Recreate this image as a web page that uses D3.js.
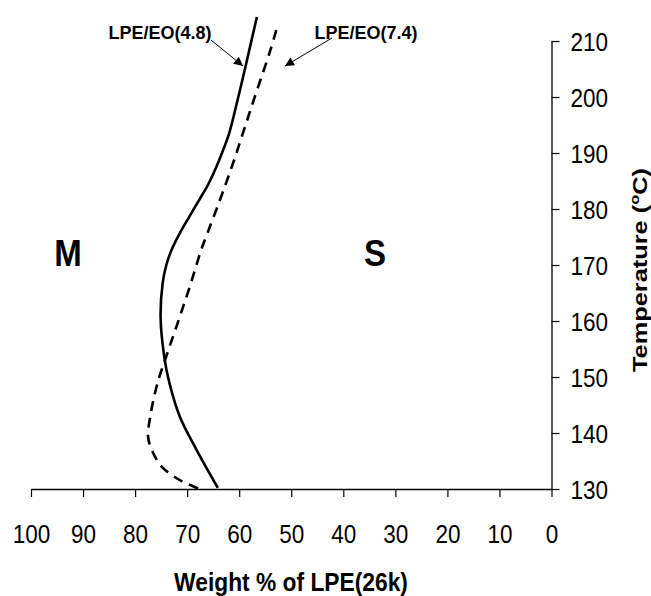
<!DOCTYPE html>
<meta charset="utf-8">
<head>
<script src="https://d3js.org/d3.v7.min.js"></script>
<style>
body { margin: 0; background: white; }
svg { display: block; font-family: "Liberation Sans", Arial, sans-serif; }
</style>
</head>
<body>
<div id="chart"></div>
<script>
// weight % of LPE(26k) vs temperature
var tempA   = [130.2, 137.0, 142.9, 148.9, 153.6, 160.7, 166.8, 170.0, 172.7, 175.7, 178.6, 181.6, 184.5, 187.5, 190.5, 193.6, 199.5, 205.4, 214.3];
var weightA = [64.1, 68.2, 71.4, 73.4, 74.4, 75.1, 74.7, 74.0, 73.0, 71.4, 69.6, 67.7, 65.9, 64.4, 63.1, 61.9, 60.3, 58.8, 56.6];

var tempB   = [130.1, 131.6, 134.0, 137.0, 139.3, 142.9, 148.9, 154.8, 160.8, 166.7, 172.7, 175.7, 181.6, 187.6, 193.5, 199.5, 208.4, 213.2];
var weightB = [67.9, 71.4, 74.9, 76.8, 77.5, 77.1, 75.7, 73.6, 71.4, 69.3, 67.3, 66.1, 63.7, 61.4, 59.3, 57.2, 54.0, 52.5];

var xTicks = [100, 90, 80, 70, 60, 50, 40, 30, 20, 10, 0];
var yTicks = [130, 140, 150, 160, 170, 180, 190, 200, 210];

var W = 651, H = 596;
var svg = d3.select("#chart").append("svg").attr("width", W).attr("height", H);

var x = d3.scaleLinear().domain([100, 0]).range([31, 551.5]);
var y = d3.scaleLinear().domain([130, 210]).range([489, 41]);

// the original figure is a bit taller than wide in its glyphs
var stretch = 1.13;

// x axis
var gx = svg.append("g").attr("transform", "translate(0,489)")
    .call(d3.axisBottom(x).tickValues(xTicks).tickSize(8).tickSizeOuter(0).tickPadding(0));
gx.select(".domain").attr("stroke", "#000").attr("stroke-width", 1.3);
gx.selectAll(".tick line").attr("stroke", "#000").attr("stroke-width", 1.2);
gx.selectAll(".tick text").attr("y", 0).attr("dy", 0)
    .attr("transform", "translate(0,54) scale(1," + stretch + ")")
    .attr("font-size", 22.5).attr("font-family", "Liberation Sans, Arial").attr("fill", "#000");

// y axis on the right
var gy = svg.append("g").attr("transform", "translate(551.5,0)")
    .call(d3.axisRight(y).tickValues(yTicks).tickSize(8).tickSizeOuter(0).tickPadding(10));
gy.select(".domain").attr("stroke", "#000").attr("stroke-width", 1.3);
gy.selectAll(".tick line").attr("stroke", "#000").attr("stroke-width", 1.2);
gy.selectAll(".tick text").attr("x", 0).attr("dy", 0)
    .attr("transform", "translate(19,9) scale(1," + stretch + ")")
    .attr("font-size", 22.5).attr("font-family", "Liberation Sans, Arial").attr("fill", "#000");

// curves
function makeLine(t, w) {
  return d3.line().curve(d3.curveCatmullRom.alpha(0.5))
    .x(function(d, i) { return x(w[i]); })
    .y(function(d) { return y(d); })(t);
}
svg.append("path").attr("d", makeLine(tempA, weightA))
    .attr("fill", "none").attr("stroke", "#000").attr("stroke-width", 2.6);
svg.append("path").attr("d", makeLine(tempB, weightB))
    .attr("fill", "none").attr("stroke", "#000").attr("stroke-width", 2.6)
    .attr("stroke-dasharray", "10,7");

// labels
svg.append("text").attr("transform", "translate(291,591) scale(1," + stretch + ")")
    .attr("text-anchor", "middle")
    .attr("font-size", 22.8).attr("font-weight", "bold").text("Weight % of LPE(26k)");

svg.append("text").attr("transform", "translate(647,270) rotate(-90)")
    .attr("text-anchor", "middle").attr("font-size", 20).attr("font-weight", "bold")
    .attr("textLength", 204).attr("lengthAdjust", "spacingAndGlyphs")
    .html('Temperature (<tspan dy="-8" font-size="13">o</tspan><tspan dy="8">C)</tspan>');

svg.append("text").attr("transform", "translate(68,266) scale(1," + stretch + ")")
    .attr("text-anchor", "middle")
    .attr("font-size", 33).attr("font-weight", "bold").text("M");
svg.append("text").attr("transform", "translate(375,266) scale(1," + stretch + ")")
    .attr("text-anchor", "middle")
    .attr("font-size", 33).attr("font-weight", "bold").text("S");

// annotations with arrows
svg.append("defs").append("marker").attr("id", "arr")
    .attr("viewBox", "0 0 10 10").attr("refX", 10).attr("refY", 5)
    .attr("markerWidth", 10).attr("markerHeight", 9).attr("markerUnits", "userSpaceOnUse")
    .attr("orient", "auto")
    .append("path").attr("d", "M0,0L10,5L0,10z").attr("fill", "#000");

svg.append("text").attr("x", 160).attr("y", 39).attr("text-anchor", "middle")
    .attr("font-size", 18).attr("font-weight", "bold").text("LPE/EO(4.8)");
svg.append("text").attr("x", 366).attr("y", 39).attr("text-anchor", "middle")
    .attr("font-size", 18).attr("font-weight", "bold").text("LPE/EO(7.4)");

svg.append("line").attr("x1", 211).attr("y1", 40).attr("x2", 243).attr("y2", 66)
    .attr("stroke", "#000").attr("stroke-width", 1).attr("marker-end", "url(#arr)");
svg.append("line").attr("x1", 332).attr("y1", 38).attr("x2", 285).attr("y2", 66)
    .attr("stroke", "#000").attr("stroke-width", 1).attr("marker-end", "url(#arr)");
</script>
</body>
